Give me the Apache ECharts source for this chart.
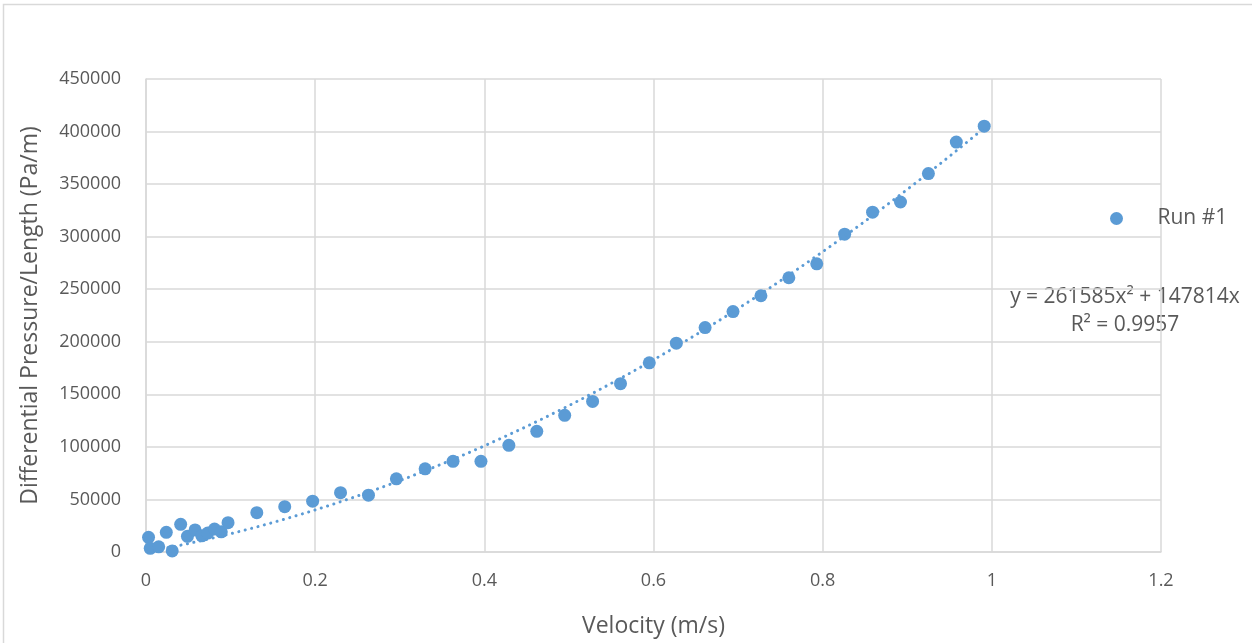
<!DOCTYPE html>
<html>
<head>
<meta charset="utf-8">
<script src="https://cdn.jsdelivr.net/npm/echarts@6/dist/echarts.min.js"></script>
<style>
  html, body { margin: 0; padding: 0; background: #ffffff; }
  #chart { width: 1252px; height: 643px; }
</style>
</head>
<body>
<div id="chart"></div>
<script>
// ---- Data ----
const seriesName = 'Run #1';
const velocity = [0.003, 0.005, 0.015, 0.024, 0.031, 0.041, 0.049, 0.058, 0.066, 0.073,
  0.081, 0.089, 0.097, 0.131, 0.164, 0.197, 0.230, 0.263, 0.296, 0.330,
  0.363, 0.396, 0.429, 0.462, 0.495, 0.528, 0.561, 0.595, 0.627, 0.661,
  0.694, 0.727, 0.760, 0.793, 0.826, 0.859, 0.892, 0.925, 0.958, 0.991];
const pressure = [14000, 3500, 4900, 18700, 1000, 26300, 14900, 21000, 15400, 18000,
  21800, 19200, 27900, 37400, 43100, 48400, 56400, 54100, 69600, 79100,
  86300, 86300, 101500, 114800, 130000, 143300, 160100, 180000, 198700, 213500,
  228700, 243800, 260900, 274200, 302400, 323300, 333000, 360000, 390000, 405100];
// Trendline shown on the chart: y = a x^2 + b x, R^2
const trendA = 261585;
const trendB = 147814;
const trendR2 = '0.9957';
const xTicks = { min: 0, max: 1.2, interval: 0.2 };
const yTicks = { min: 0, max: 450000, interval: 50000 };

// ---- Build ----
const points = velocity.map((v, i) => [v, pressure[i]]);
const vMin = Math.min(...velocity), vMax = Math.max(...velocity);
const trend = [];
const steps = 120;
for (let k = 0; k <= steps; k++) {
  const x = vMin + (vMax - vMin) * k / steps;
  trend.push([x, trendA * x * x + trendB * x]);
}

const FONT = 'Open Sans';
const TXT = '#595959';
const GRID = '#D9D9D9';
const BLUE = '#5B9BD5';

const chart = echarts.init(document.getElementById('chart'), null, { renderer: 'canvas' });
chart.setOption({
  animation: false,
  backgroundColor: '#ffffff',
  textStyle: { fontFamily: FONT },
  grid: { left: 146, right: 91, top: 79, bottom: 90, containLabel: false },
  xAxis: {
    type: 'value',
    min: xTicks.min, max: xTicks.max, interval: xTicks.interval,
    name: 'Velocity (m/s)',
    nameLocation: 'middle',
    nameGap: 63,
    nameTextStyle: { color: TXT, fontSize: 23, fontFamily: FONT },
    axisLine: { show: true, lineStyle: { color: GRID, width: 1.5 } },
    axisTick: { show: false },
    axisLabel: { color: TXT, fontSize: 18, fontFamily: FONT, margin: 20,
      formatter: v => String(+v.toFixed(1)) },
    splitLine: { show: true, lineStyle: { color: GRID, width: 1.5 } }
  },
  yAxis: {
    type: 'value',
    min: yTicks.min, max: yTicks.max, interval: yTicks.interval,
    name: 'Differential Pressure/Length (Pa/m)',
    nameLocation: 'middle',
    nameGap: 104,
    nameRotate: 90,
    nameTextStyle: { color: TXT, fontSize: 23, fontFamily: FONT },
    axisLine: { show: true, lineStyle: { color: GRID, width: 1.5 } },
    axisTick: { show: false },
    axisLabel: { color: TXT, fontSize: 18, fontFamily: FONT, margin: 25,
      formatter: v => String(v) },
    splitLine: { show: true, lineStyle: { color: GRID, width: 1.5 } }
  },
  legend: {
    data: [seriesName],
    orient: 'vertical',
    left: 1105,
    top: 203,
    itemWidth: 72,
    itemHeight: 13,
    icon: 'circle',
    textStyle: { color: TXT, fontSize: 21, fontFamily: FONT }
  },
  series: [
    {
      name: seriesName,
      type: 'scatter',
      data: points,
      symbol: 'circle',
      symbolSize: 13,
      itemStyle: { color: BLUE, opacity: 1 },
      z: 2
    },
    {
      name: 'trend',
      type: 'line',
      data: trend,
      showSymbol: false,
      smooth: false,
      silent: true,
      lineStyle: { color: BLUE, width: 3, type: [0.1, 6.5], cap: 'round' },
      z: 3
    }
  ],
  graphic: [
    {
      type: 'rect',
      shape: { x: 3.5, y: 4.5, width: 1300, height: 700 },
      style: { fill: 'none', stroke: GRID, lineWidth: 1.5 },
      silent: true, z: -1
    },
    {
      type: 'text',
      x: 1125, y: 297,
      style: {
        text: 'y = ' + trendA + 'x\u00B2 + ' + trendB + 'x',
        fill: TXT, font: '21px "' + FONT + '"',
        align: 'center', verticalAlign: 'middle'
      }
    },
    {
      type: 'text',
      x: 1125, y: 325,
      style: {
        text: 'R\u00B2 = ' + trendR2,
        fill: TXT, font: '21px "' + FONT + '"',
        align: 'center', verticalAlign: 'middle'
      }
    }
  ]
});
</script>
</body>
</html>
